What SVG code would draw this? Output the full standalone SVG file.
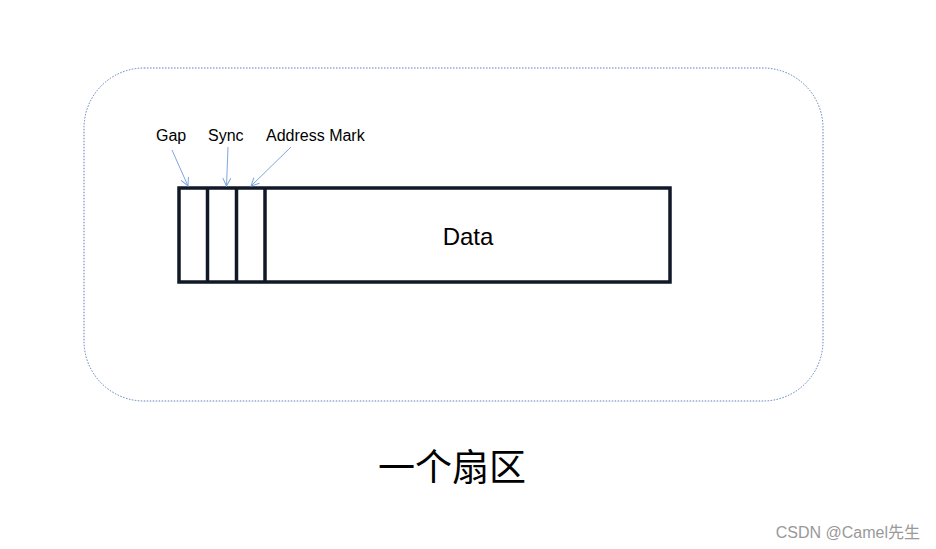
<svg xmlns="http://www.w3.org/2000/svg" width="936" height="549" viewBox="0 0 936 549">
<style>
.lbl{font-family:"Liberation Sans",Arial,sans-serif;font-size:16px;fill:#000}
.ptr{stroke:#7ea6e0;stroke-width:1;fill:none}
.cell{fill:none;stroke:#111827;stroke-width:3.5}
</style>
<defs>
<marker id="ah" viewBox="0 0 10 10" refX="9" refY="5" markerWidth="10" markerHeight="10" markerUnits="userSpaceOnUse" orient="auto">
<path d="M1,1 L9,5 L1,9" fill="none" stroke="#7ea6e0" stroke-width="1"/>
</marker>
</defs>
<rect width="936" height="549" fill="#fff"/>
<g id="sector">
<rect x="84" y="68" width="739" height="333" rx="60" ry="60" fill="none" stroke="#5b7fb8" stroke-width="1" stroke-dasharray="1.5,1.5"/>
</g>
<g id="track">
<rect class="cell" x="179" y="188" width="491" height="94"/>
<line class="cell" x1="207.5" y1="188" x2="207.5" y2="282"/>
<line class="cell" x1="236.5" y1="188" x2="236.5" y2="282"/>
<line class="cell" x1="265" y1="188" x2="265" y2="282"/>
<text x="468" y="245" text-anchor="middle" font-family="Liberation Sans,Arial,sans-serif" font-size="24">Data</text>
</g>
<g id="gap-label"><text class="lbl" x="156" y="141">Gap</text></g>
<g id="sync-label"><text class="lbl" x="208" y="141">Sync</text></g>
<g id="addr-label"><text class="lbl" x="266" y="141">Address Mark</text></g>
<g id="connectors">
<line class="ptr" x1="172" y1="150" x2="188" y2="186" marker-end="url(#ah)"/>
<line class="ptr" x1="228" y1="147" x2="226.5" y2="186" marker-end="url(#ah)"/>
<line class="ptr" x1="291" y1="147" x2="251" y2="186" marker-end="url(#ah)"/>
</g>
<g id="caption"><text x="452" y="481" text-anchor="middle" font-family="Liberation Sans,'Noto Sans CJK SC',sans-serif" font-size="37">一个扇区</text></g>
<text x="920" y="538" text-anchor="end" font-family="Liberation Sans,'Noto Sans CJK SC',sans-serif" font-size="16" fill="#999">CSDN @Camel先生</text>
</svg>
